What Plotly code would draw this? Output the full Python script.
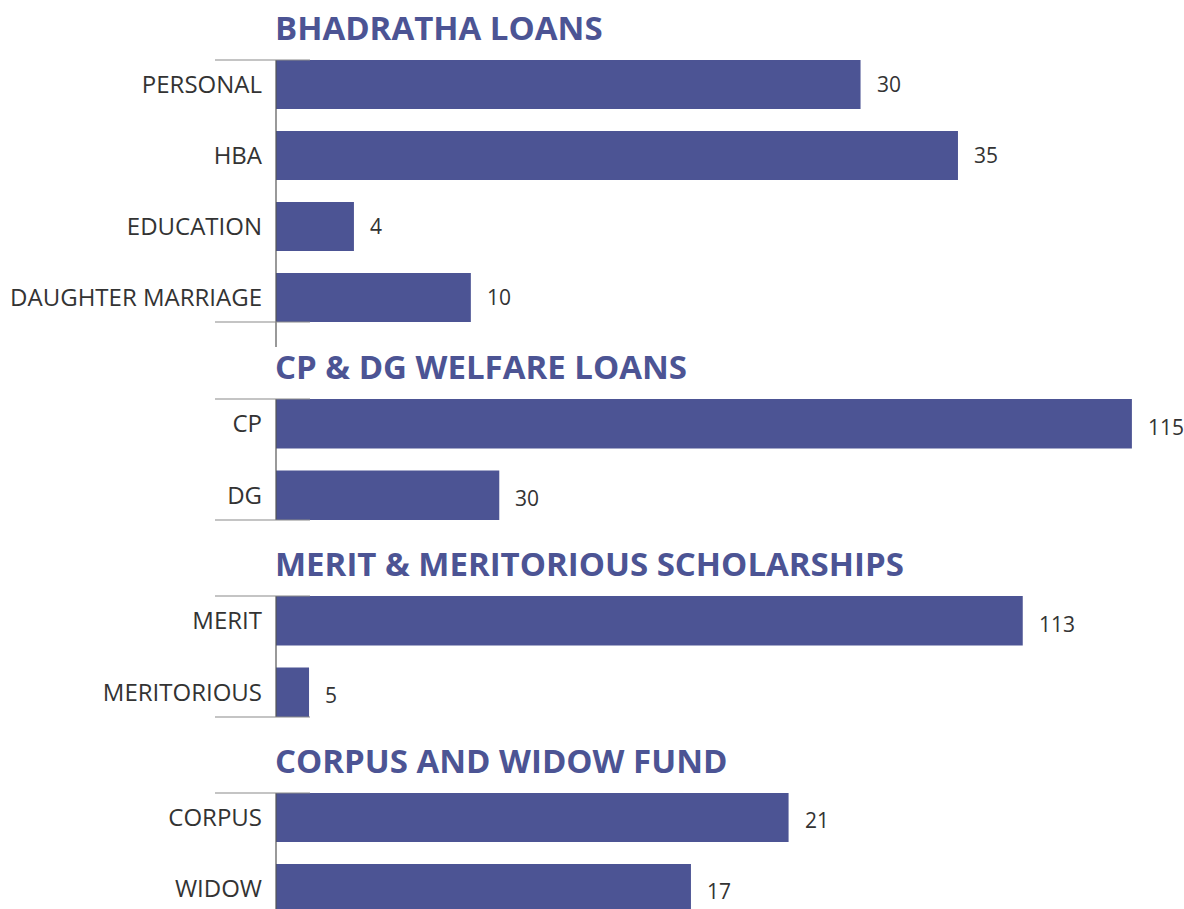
import plotly.graph_objects as go

W, H = 1184, 909
BAR = "#4C5494"
TXT = "#333333"
FONT = "Open Sans"

titles = ["BHADRATHA LOANS", "CP & DG WELFARE LOANS",
          "MERIT & MERITORIOUS SCHOLARSHIPS", "CORPUS AND WIDOW FUND"]
bhadratha_cats = ["PERSONAL", "HBA", "EDUCATION", "DAUGHTER MARRIAGE"]
bhadratha_vals = [30, 35, 4, 10]
welfare_cats = ["CP", "DG"]
welfare_vals = [115, 30]
scholar_cats = ["MERIT", "MERITORIOUS"]
scholar_vals = [113, 5]
fund_cats = ["CORPUS", "WIDOW"]
fund_vals = [21, 17]

panels = [
    (bhadratha_cats, bhadratha_vals),
    (welfare_cats, welfare_vals),
    (scholar_cats, scholar_vals),
    (fund_cats, fund_vals),
]

# layout (pixels) for each panel
x_left_px = 276
x_max = [46.6, 122.0, 137.4, 37.2]
panel_px = [(60, 322), (399, 520), (596, 717), (793, 909)]
y_bottom = [3.345, 1.345, 1.345, 1.289]
value_yshift = [1, -3, -3, -3]
BAR_W = 0.69

fig = go.Figure()
shapes = []
annotations = []
layout = {}
plot_w = W - x_left_px

for i, ((cats, vals), title) in enumerate(zip(panels, titles)):
    n = i + 1
    xa = "x" if n == 1 else f"x{n}"
    ya = "y" if n == 1 else f"y{n}"
    xkey = "xaxis" if n == 1 else f"xaxis{n}"
    ykey = "yaxis" if n == 1 else f"yaxis{n}"
    top, bot = panel_px[i]
    fig.add_trace(go.Bar(
        x=vals, y=cats, orientation="h", xaxis=xa, yaxis=ya,
        marker=dict(color=BAR, line=dict(width=0)), width=BAR_W,
        hoverinfo="x+y", showlegend=False,
    ))
    layout[xkey] = dict(
        domain=[x_left_px / W, 1.0], range=[0, x_max[i]], anchor=ya,
        showgrid=False, zeroline=False, showticklabels=False, showline=False,
        fixedrange=True,
    )
    layout[ykey] = dict(
        domain=[1 - bot / H, 1 - top / H], anchor=xa, type="category",
        categoryorder="array", categoryarray=cats,
        range=[y_bottom[i], -0.345], showgrid=False, zeroline=False,
        showline=False, ticks="", ticklabelstandoff=13,
        tickfont=dict(family=FONT, size=24, color=TXT), fixedrange=True,
    )
    h_px = bot - top
    # vertical axis line
    ext = -25 / h_px if i == 0 else 0
    shapes.append(dict(type="line", xref=f"{xa} domain", yref=f"{ya} domain",
                       x0=0, x1=0, y0=ext, y1=1, layer="above",
                       line=dict(color="#555555", width=1.2)))
    # horizontal bracket lines
    hx0 = (215 - x_left_px) / plot_w
    hx1 = (310 - x_left_px) / plot_w
    for yy in ([1, 0] if i < 3 else [1]):
        shapes.append(dict(type="line", xref=f"{xa} domain", yref=f"{ya} domain",
                           x0=hx0, x1=hx1, y0=yy, y1=yy, layer="above",
                           line=dict(color="#8a8a8a", width=1.2)))
    # title
    annotations.append(dict(
        text=title, xref=f"{xa} domain", yref=f"{ya} domain", x=0, y=1,
        xanchor="left", yanchor="middle", xshift=-3, yshift=33, showarrow=False,
        font=dict(family=FONT, size=33, color=BAR, weight=700),
    ))
    # value labels
    for c, v in zip(cats, vals):
        annotations.append(dict(
            text=str(v), x=v, y=c, xref=xa, yref=ya, xanchor="left",
            yanchor="middle", xshift=14, yshift=value_yshift[i], showarrow=False,
            font=dict(family=FONT, size=21, color=TXT),
        ))

fig.update_layout(
    width=W, height=H, margin=dict(l=0, r=0, t=0, b=0),
    paper_bgcolor="white", plot_bgcolor="white",
    shapes=shapes, annotations=annotations, bargap=0.3,
    **layout,
)

fig.write_html(
    "out.html",
    config={"displayModeBar": False},
    post_script="document.body.style.margin='0';document.body.style.overflow='hidden';",
)
